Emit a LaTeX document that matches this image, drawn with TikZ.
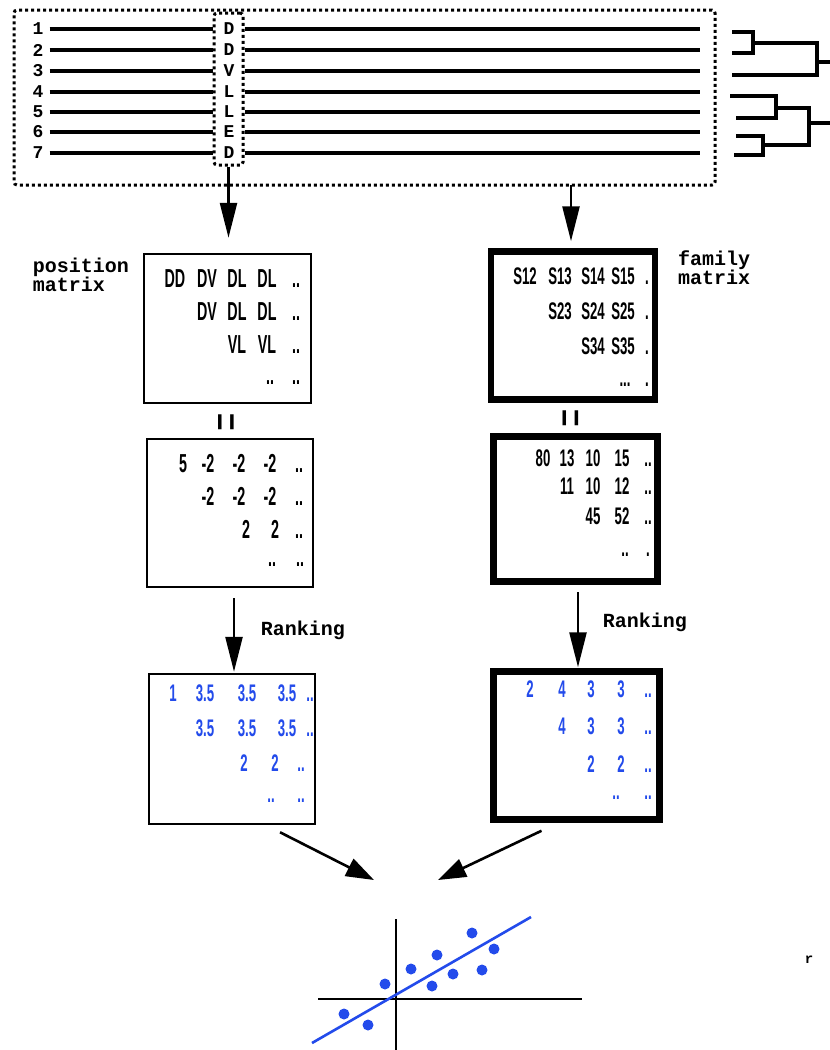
\documentclass[tikz,border=0pt]{standalone}
\usepackage{fontspec}
\usepackage{graphicx}
\usetikzlibrary{arrows.meta,calc}
\newfontfamily\courb{Liberation Mono}
\newfontfamily\cond{Liberation Sans}[FakeStretch=0.55]
\definecolor{mblue}{RGB}{35,75,235}
\begin{document}
\begin{tikzpicture}[x=1pt,y=-1pt,
  lbl/.style={font=\courb\bfseries\fontsize{18}{18}\selectfont, inner sep=0},
  captxt/.style={font=\courb\bfseries\fontsize{20}{19}\selectfont, inner sep=0, align=left},
  ent/.style={anchor=base, inner sep=0, font=\cond\bfseries\fontsize{26}{26}\selectfont},
  entf/.style={anchor=base, inner sep=0, font=\cond\bfseries\fontsize{24}{24}\selectfont},
  rnk/.style={entf, text=mblue},
  thinbox/.style={draw, line width=2.5pt, inner sep=0},
  thickbox/.style={draw, line width=6.5pt, inner sep=0},
  dotbox/.style={draw, line width=3pt, dash pattern=on 3pt off 3pt, inner sep=0, rounded corners=3pt},
  arr/.style={line width=2.6pt, -{Triangle[length=35pt,width=17pt]}},
  arrd/.style={line width=2.6pt, -{Triangle[length=28pt,width=19pt]}},
  ln/.style={line width=3.2pt},
  eq/.style={font=\courb\fontsize{22}{22}\selectfont, inner sep=0}
]
\useasboundingbox (0,0) rectangle (830,1050);
\fill[white] (0,0) rectangle (830,1050);

% ---------- top alignment panel ----------
\node[dotbox, minimum width=701pt, minimum height=175pt] (outer) at (364.5,97.5) {};
\node[dotbox, minimum width=29pt, minimum height=152pt] (dcol) at (228.5,89) {};
\foreach \i/\y/\l in {1/29/D,2/50/D,3/71/V,4/92/L,5/112/L,6/132/E,7/153/D}{
  \node[lbl] (n\i) at (38,\y) {\i};
  \node[lbl] (d\i) at (229,\y) {\l};
  \coordinate (r\i) at (700,\y);
  \draw[ln] ([xshift=6pt]n\i.east) -- (n\i.east -| dcol.west);
  \draw[ln] (n\i.east -| dcol.east) -- (r\i);
}

% dendrogram
\draw[ln] (732,32) -- (753,32) -- (753,53) -- (732,53);
\draw[ln] (753,43) -- (817,43) -- (817,75) -- (732,75);
\draw[ln] (817,62) -- (830,62);
\draw[ln] (730,96) -- (776,96) -- (776,118) -- (736,118);
\draw[ln] (736,136) -- (763,136) -- (763,155) -- (734,155);
\draw[ln] (776,108) -- (809,108) -- (809,145) -- (763,145);
\draw[ln] (809,123) -- (830,123);

% ---------- matrices ----------
\node[thinbox, minimum width=167pt, minimum height=149pt] (pm) at (227.5,328.5) {};
\node[captxt] (pmlabel) at (81,275) {position\\matrix};
\node[thinbox, minimum width=166pt, minimum height=148pt] (pv) at (230,513) {};
\node[thickbox, minimum width=164pt, minimum height=148pt] (fm) at (573,325.5) {};
\node[captxt] (fmlabel) at (714,268) {family\\matrix};
\node[thickbox, minimum width=164pt, minimum height=145pt] (fv) at (575.5,509) {};
\node[thinbox, minimum width=166pt, minimum height=150pt] (rl) at (232,749) {};
\node[thickbox, minimum width=166pt, minimum height=148pt] (rr) at (576.5,745.5) {};

% position matrix entries
\foreach \x/\t in {175/DD,207/DV,237/DL,267/DL,296/..}{\node[ent] (pa\x) at (\x,287) {\t};}
\foreach \x/\t in {207/DV,237/DL,267/DL,296/..}{\node[ent] (pb\x) at (\x,320) {\t};}
\foreach \x/\t in {237/VL,267/VL,296/..}{\node[ent] (pc\x) at (\x,353) {\t};}
\foreach \x/\t in {270/..,296/..}{\node[ent] (pd\x) at (\x,384) {\t};}
\node[eq] (eqL) at (230,422) {\rotatebox{90}{\scalebox{1.4}[2.2]{=}}};

% position values
\foreach \x/\t in {183/5,208/-2,239/-2,270/-2,299/..}{\node[ent] (va\x) at (\x,472) {\t};}
\foreach \x/\t in {208/-2,239/-2,270/-2,299/..}{\node[ent] (vb\x) at (\x,505) {\t};}
\foreach \x/\t in {246/2,275/2,299/..}{\node[ent] (vc\x) at (\x,538) {\t};}
\foreach \x/\t in {272/..,300/..}{\node[ent] (vd\x) at (\x,566) {\t};}

% family matrix entries
\foreach \x/\t in {525/S12,560/S13,593/S14,623/S15,647/.}{\node[entf] (fa\x) at (\x,284) {\t};}
\foreach \x/\t in {560/S23,593/S24,623/S25,647/.}{\node[entf] (fb\x) at (\x,319) {\t};}
\foreach \x/\t in {593/S34,623/S35,647/.}{\node[entf] (fc\x) at (\x,354) {\t};}
\node[entf] (fd1) at (625,386) {...};
\node[entf] (fd2) at (647,386) {.};
\node[eq] (eqR) at (574.5,418) {\rotatebox{90}{\scalebox{1.4}[2.2]{=}}};

% family values
\foreach \x/\t in {543/80,567/13,593/10,622/15,648/..}{\node[entf] (ga\x) at (\x,466) {\t};}
\foreach \x/\t in {567/11,593/10,622/12,648/..}{\node[entf] (gb\x) at (\x,494) {\t};}
\foreach \x/\t in {593/45,622/52,648/..}{\node[entf] (gc\x) at (\x,524) {\t};}
\node[entf] (gd1) at (625,556) {..};
\node[entf] (gd2) at (648,556) {.};

% ranked left
\foreach \x/\t in {173/1,205/3.5,247/3.5,287/3.5,310/..}{\node[rnk] (ka\x) at (\x,701) {\t};}
\foreach \x/\t in {205/3.5,247/3.5,287/3.5,310/..}{\node[rnk] (kb\x) at (\x,736) {\t};}
\foreach \x/\t in {244/2,275/2,301/..}{\node[rnk] (kc\x) at (\x,771) {\t};}
\foreach \x/\t in {271/..,301/..}{\node[rnk] (kd\x) at (\x,802) {\t};}

% ranked right
\foreach \x/\t in {530/2,562/4,591/3,621/3,648/..}{\node[rnk] (ma\x) at (\x,697) {\t};}
\foreach \x/\t in {562/4,591/3,621/3,648/..}{\node[rnk] (mb\x) at (\x,734) {\t};}
\foreach \x/\t in {591/2,621/2,648/..}{\node[rnk] (mc\x) at (\x,772) {\t};}
\foreach \x/\t in {616/..,648/..}{\node[rnk] (md\x) at (\x,799) {\t};}

% ---------- arrows ----------
\draw[arr, shorten >=15pt] (dcol.south) -- (dcol.south |- pm.north);
\coordinate (topR) at (571,185);
\draw[arr, shorten >=7pt] (topR) -- (topR |- fm.north);

\coordinate (rkL) at (234,598);
\draw[arr, shorten >=1pt] (rkL) -- (rkL |- rl.north);
\node[captxt] (rankL) at (303,630) {Ranking};
\coordinate (rkR) at (578,592);
\draw[arr, shorten >=1pt] (rkR) -- (rkR |- rr.north);
\node[captxt] (rankR) at (645,622) {Ranking};

\coordinate (tipL) at (374,880);
\coordinate (tipR) at (438,880);
\draw[arrd] ([shift={(48,7)}]rl.south) -- (tipL);
\draw[arrd] ([shift={(-35,8)}]rr.south) -- (tipR);

% ---------- scatter plot ----------
\draw[line width=2.8pt] (396,919) -- (396,1050);
\draw[line width=2.8pt] (318,999) -- (582,999);
\draw[line width=2.6pt, mblue] (312,1043) -- (531,917);
\foreach \x/\y in {344/1014,368/1025,385/984,411/969,437/955,432/986,453/974,472/933,494/949,482/970}{
  \fill[mblue] (\x,\y) circle (5.5pt);
}
\node[font=\courb\bfseries\fontsize{14}{14}\selectfont, inner sep=0] (rfrag) at (809,960) {r};
\end{tikzpicture}
\end{document}
